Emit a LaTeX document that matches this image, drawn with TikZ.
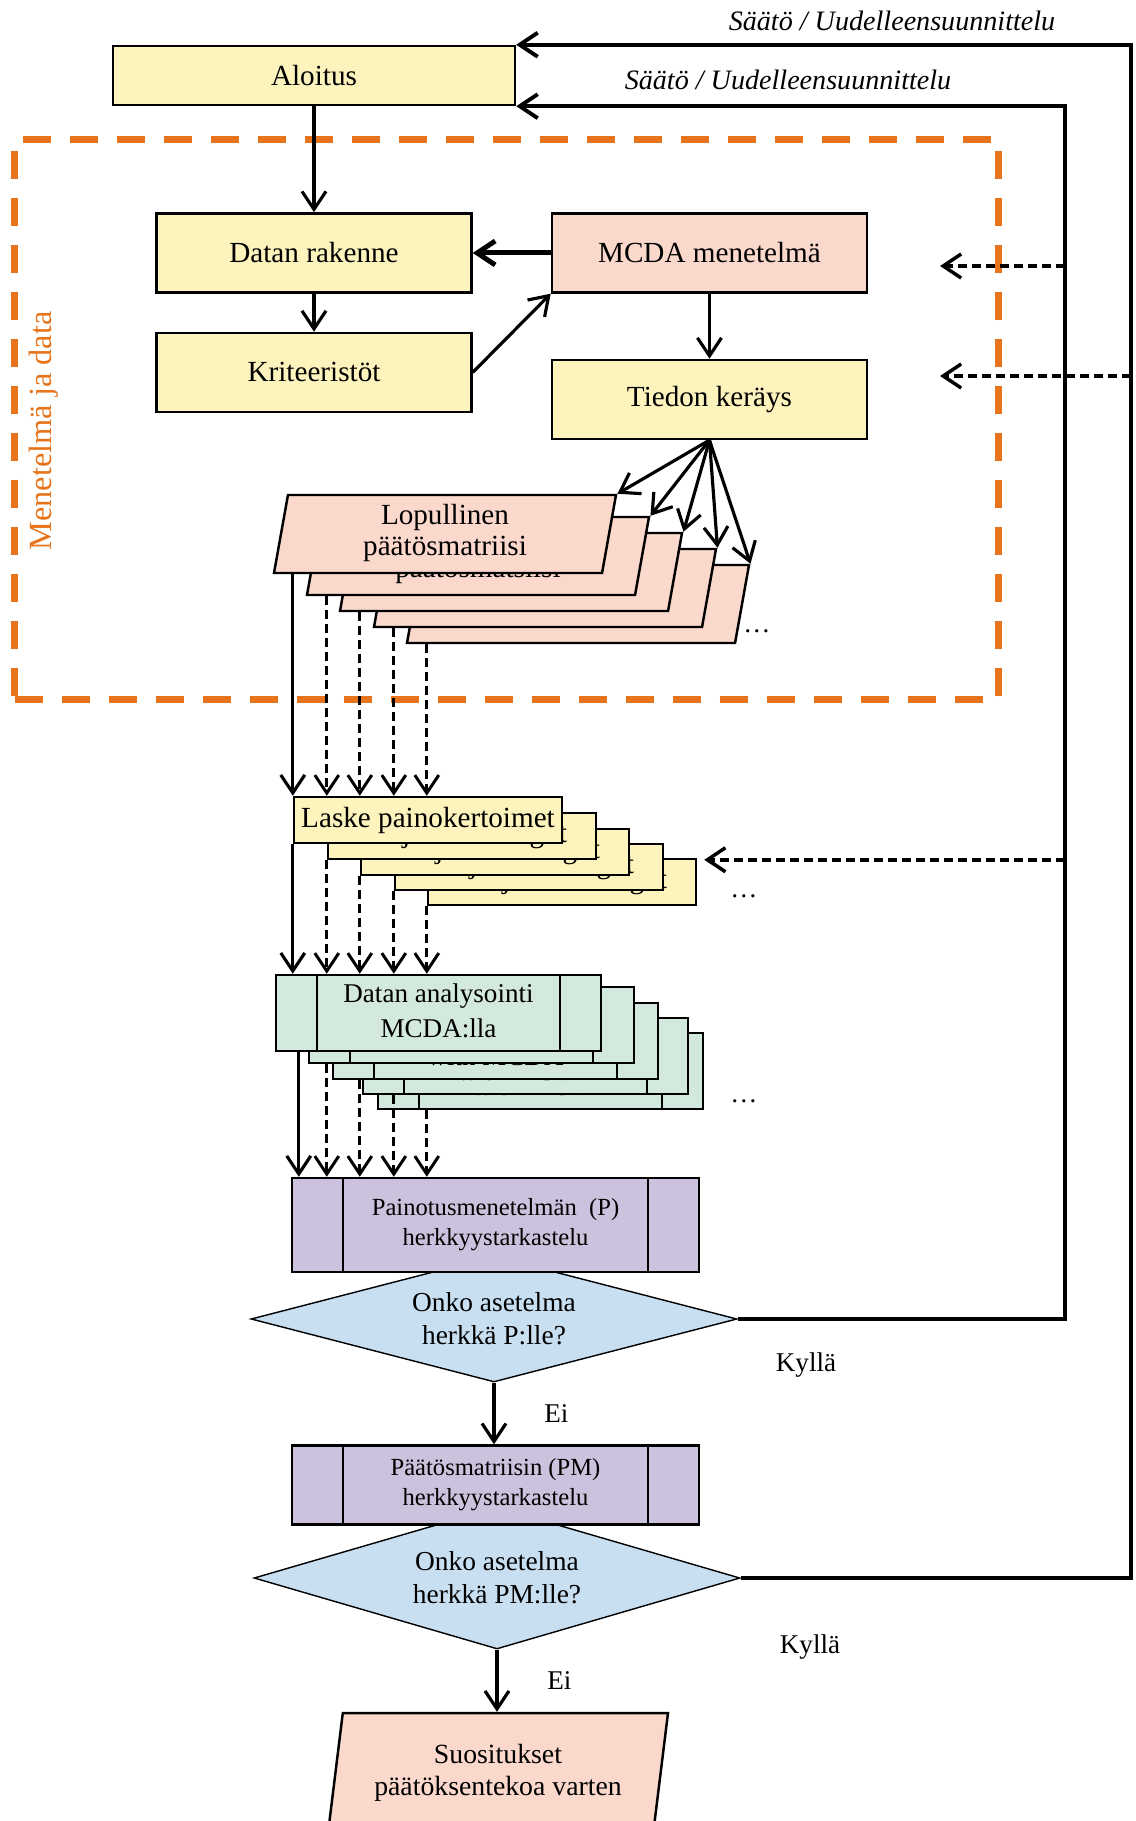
\documentclass[tikz,border=0pt]{standalone}
\usepackage{fontspec}
\setmainfont{Liberation Serif}
\usepackage{tikz}
\usetikzlibrary{arrows.meta,positioning,shapes.geometric,backgrounds,calc}

\definecolor{stageyellow}{RGB}{252,243,189}
\definecolor{stagepink}{RGB}{250,216,204}
\definecolor{stagegreen}{RGB}{211,233,221}
\definecolor{stagepurple}{RGB}{205,194,221}
\definecolor{stageblue}{RGB}{200,222,241}
\definecolor{frameorange}{RGB}{231,116,26}

\newcommand{\fsz}[2]{\fontsize{#1pt}{#2pt}\selectfont}

\tikzset{sidebars/.style={path picture={
  \draw[line width=0.7pt]
    ([xshift=#1]path picture bounding box.north west) -- ([xshift=#1]path picture bounding box.south west)
    ([xshift=-#1]path picture bounding box.north east) -- ([xshift=-#1]path picture bounding box.south east);}}}

\begin{document}
\begin{tikzpicture}[x=0.1mm, y=-0.1mm, line width=0.7pt,
  >={Straight Barb[length=1.8mm,width=2.4mm]}]
\tikzstyle{stage}=[rectangle,
                   draw=black,
                   fill=stageyellow,
                   inner sep=0pt,
                   minimum width=31.5mm,
                   minimum height=7.9mm,
                   font=\fsz{8.3}{10}]
\tikzstyle{method}=[stage, fill=stagepink]
\tikzstyle{datamat}=[trapezium,
                     trapezium left angle=77,
                     trapezium right angle=103,
                     trapezium stretches body,
                     draw=black,
                     fill=stagepink,
                     inner sep=0pt,
                     minimum width=34.2mm,
                     minimum height=7.8mm,
                     align=center,
                     font=\fsz{8.3}{8.6}]
\tikzstyle{weights}=[rectangle,
                     draw=black,
                     fill=stageyellow,
                     inner sep=0pt,
                     minimum width=26.8mm,
                     minimum height=4.6mm,
                     font=\fsz{8.3}{10}]
\tikzstyle{analysis}=[rectangle,
                      draw=black,
                      fill=stagegreen,
                      inner sep=0pt,
                      minimum width=32.5mm,
                      minimum height=7.6mm,
                      align=center,
                      sidebars=4.1mm,
                      font=\fsz{7.7}{10}]
\tikzstyle{check}=[rectangle,
                   draw=black,
                   fill=stagepurple,
                   inner sep=0pt,
                   minimum width=40.7mm,
                   align=center,
                   sidebars=5.1mm,
                   font=\fsz{7}{8.5}]
\tikzstyle{decision}=[diamond,
                      draw=black,
                      fill=stageblue,
                      inner sep=0pt,
                      align=center,
                      font=\fsz{7.8}{9.4}]
\tikzstyle{result}=[trapezium,
                    trapezium left angle=75.4,
                    trapezium right angle=104.6,
                    trapezium stretches body,
                    draw=black,
                    fill=stagepink,
                    inner sep=0pt,
                    minimum width=34mm,
                    minimum height=12mm,
                    align=center,
                    font=\fsz{7.9}{9}]
\tikzstyle{methodbox}=[rectangle,
                       draw=frameorange,
                       line width=0.7mm,
                       dash pattern=on 2.8mm off 1.9mm,
                       inner sep=0pt]
\tikzstyle{note}=[font=\fsz{7.7}{9}]
\tikzstyle{redesign}=[font=\itshape\fsz{8}{9}]
\tikzstyle{link}=[line width=0.9pt]
\tikzstyle{feedback}=[line width=1.1pt]
\tikzstyle{retune}=[dash pattern=on 0.9mm off 0.5mm, line width=0.85pt]

\useasboundingbox (0,0) rectangle (1135,1821);

\node[stage, minimum width=40.2mm, minimum height=5.9mm] (aloitus) at (314,75.5) {Aloitus};
\node[stage, below=10.6mm of aloitus] (rakenne) {Datan rakenne};
\node[stage, below=3.8mm of rakenne] (kriteerit) {Kriteeristöt};
\node[method, right=7.8mm of rakenne] (mcda) {MCDA menetelmä};
\node[stage, below=6.5mm of mcda] (tiedon) {Tiedon keräys};

% decision matrices, back to front
\node[datamat] (mat4) at (578,604) {\strut\\\strut Matrix};
\node[datamat] (mat3) at (545,588) {\strut\\\strut Matrix};
\node[datamat] (mat2) at (511,572) {\strut\\\strut Matrix};
\node[datamat] (mat1) at (478,556) {\strut\\\strut päätösmatsiisi};
\node[datamat] (mat0) at (445,534) {\strut Lopullinen\\\strut päätösmatriisi};
\node[note] (moremat) at (757,631) {\dots};

% weights
\node[weights] (wgt4) at (562,882) {Subjective weight};
\node[weights] (wgt3) at (529,867) {Subjective weight};
\node[weights] (wgt2) at (495,852) {Subjective weight};
\node[weights] (wgt1) at (462,836) {Subjective weight};
\node[weights] (wgt0) at (428,820) {Laske painokertoimet};
\node[note] (morewgt) at (744,896) {\dots};

% analysis
\node[analysis] (ana4) at (540.5,1071) {\strut\\\strut with MCDA};
\node[analysis] (ana3) at (525.5,1056) {\strut\\\strut with MCDA};
\node[analysis] (ana2) at (495.5,1041) {\strut\\\strut with MCDA};
\node[analysis] (ana1) at (471.5,1025) {\strut\\\strut with MCDA};
\node[analysis] (ana0) at (438.5,1013) {\strut Datan analysointi\\\strut MCDA:lla};
\node[note] (moreana) at (744,1101) {\dots};

% sensitivity checks
\node[check, minimum height=9.4mm] (psens) at (495.5,1225)
  {Painotusmenetelmän~~(P)\\herkkyystarkastelu};
\node[check, minimum height=7.9mm] (pmsens) at (495.5,1485)
  {Päätösmatriisin (PM)\\herkkyystarkastelu};
\node[result] (advice) at (498,1773) {Suositukset\\päätöksentekoa varten};

\begin{pgfonlayer}{background}
  \node[methodbox, minimum width=98.35mm, minimum height=56mm] (methods) at (506.25,420) {};
  \node[decision, aspect=3.8, minimum width=48.6mm, minimum height=12.6mm] (psure)
    at (494,1319) {Onko asetelma\\herkkä P:lle?};
  \node[decision, aspect=3.4, minimum width=48.6mm, minimum height=14.2mm] (pmsure)
    at (497,1578) {Onko asetelma\\herkkä PM:lle?};
\end{pgfonlayer}
\node[text=frameorange, rotate=90, font=\fsz{9.2}{11}] (methodlabel) at (44,431) {Menetelmä ja data};

\node[redesign] (redo1) at (892,21) {Säätö / Uudelleensuunnittelu};
\node[redesign] (redo2) at (788,80) {Säätö / Uudelleensuunnittelu};
\node[note] (kylla1) at (806,1365) {Kyllä};
\node[note] (kylla2) at (810,1647) {Kyllä};

\coordinate (outer) at (1131,800);
\coordinate (inner) at (1065,800);
\coordinate (mcdatip) at (940,266);
\coordinate (tiedontip) at (940,376);
\coordinate (wgttip) at ([xshift=0.7mm,yshift=-0.2mm]wgt4.north east);

\path[link, ->]
(aloitus) edge (rakenne)
(rakenne) edge (kriteerit)
(kriteerit.east) edge (mcda.south west)
(mcda) edge (tiedon);
\draw[->, line width=1.4pt] (mcda) -- (rakenne);

\path[link, ->]
(tiedon.south) edge (mat0.top right corner)
               edge (mat1.top right corner)
               edge (mat2.top right corner)
               edge (mat3.top right corner)
               edge (mat4.top right corner);

% final matrix, solid
\draw[link, ->] (mat0.south -| wgt0.west) -- (wgt0.north west);
\draw[link, ->] (wgt0.south west) -- (wgt0.west |- ana0.north);
\draw[link, ->] ([xshift=0.6mm]ana0.south -| wgt0.west) -- ([xshift=0.6mm]wgt0.west |- psens.north);

% other matrices, dashed
\draw[retune, ->] (mat1.south -| wgt1.west) -- (wgt1.west |- wgt0.north);
\draw[retune, ->] (mat2.south -| wgt2.west) -- (wgt2.west |- wgt0.north);
\draw[retune, ->] (mat3.south -| wgt3.west) -- (wgt3.west |- wgt0.north);
\draw[retune, ->] (mat4.south -| wgt4.west) -- (wgt4.west |- wgt0.north);
\draw[retune, ->] (wgt1.south west) -- (wgt1.west |- ana0.north);
\draw[retune, ->] (wgt2.south west) -- (wgt2.west |- ana0.north);
\draw[retune, ->] (wgt3.south west) -- (wgt3.west |- ana0.north);
\draw[retune, ->] (wgt4.south west) -- (wgt4.west |- ana0.north);
\draw[retune, ->] (ana1.south -| wgt1.west) -- (wgt1.west |- psens.north);
\draw[retune, ->] (ana2.south -| wgt2.west) -- (wgt2.west |- psens.north);
\draw[retune, ->] (ana3.south -| wgt3.west) -- (wgt3.west |- psens.north);
\draw[retune, ->] (ana4.south -| wgt4.west) -- (wgt4.west |- psens.north);

\draw[link, ->] (psure.south) -- node[note, right=3.7mm] (ei1) {Ei} (psure.south |- pmsens.north);
\draw[link, ->] (pmsure.south) -- node[note, right=3.7mm] (ei2) {Ei} (pmsure.south |- advice.north);

\draw[feedback, ->] (pmsure.east) -| (outer) |- (aloitus.north east);
\draw[feedback, ->] (psure.east) -| (inner) |- (aloitus.south east);

\draw[retune, line width=1pt, ->] (mcdatip -| inner) -- (mcdatip);
\draw[retune, line width=1pt, ->] (tiedontip -| outer) -- (tiedontip);
\draw[retune, line width=1pt, ->] (wgttip -| inner) -- (wgttip);
\end{tikzpicture}
\end{document}
